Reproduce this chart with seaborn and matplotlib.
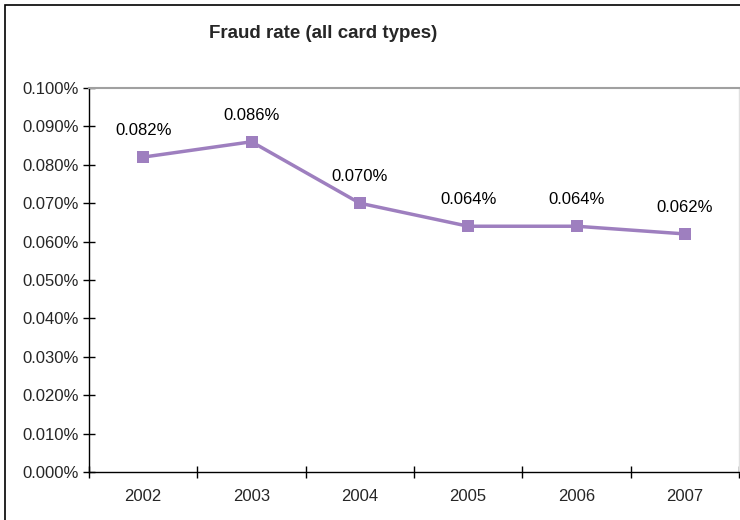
import matplotlib
matplotlib.use("Agg")
import matplotlib.pyplot as plt
import matplotlib.ticker as mticker
from matplotlib.patches import Rectangle
import seaborn as sns
import pandas as pd

years = ["2002", "2003", "2004", "2005", "2006", "2007"]
fraud_rate = [0.082, 0.086, 0.070, 0.064, 0.064, 0.062]
value_labels = ["0.082%", "0.086%", "0.070%", "0.064%", "0.064%", "0.062%"]

sns.set_style("white")
plt.rcParams['font.family'] = ['Liberation Sans', 'DejaVu Sans']

df = pd.DataFrame({"pos": range(len(years)), "rate": fraud_rate})
purple = "#9E7FBF"

fig = plt.figure(figsize=(7.4, 5.2), dpi=100)
ax = fig.add_axes([89 / 740, 1 - 472 / 520, (739 - 89) / 740, (472 - 88) / 520])

sns.lineplot(data=df, x="pos", y="rate", ax=ax, color=purple, linewidth=2.5,
             marker="s", markersize=8, markeredgewidth=0)

for i, (v, lab) in enumerate(zip(fraud_rate, value_labels)):
    ax.annotate(lab, (i, v), xytext=(0, 19), textcoords="offset points",
                ha="center", va="center", fontsize=12, color="black")

ax.set_xlim(-0.5, len(years) - 0.5)
ax.set_ylim(0, 0.1)
ax.yaxis.set_major_locator(mticker.MultipleLocator(0.01))
ax.yaxis.set_major_formatter(mticker.FuncFormatter(lambda v, p: f"{v:.3f}%"))
ax.set_xticks(range(len(years)))
ax.set_xticklabels(years)
ax.set_xticks([i - 0.5 for i in range(len(years) + 1)], minor=True)
ax.tick_params(axis="x", which="major", length=0, pad=12, labelsize=12)
ax.tick_params(axis="x", which="minor", bottom=True, direction="inout", length=8, width=1, color="black")
ax.tick_params(axis="y", direction="inout", length=8, width=1, color="black", labelsize=12, left=True)
ax.set_xlabel("")
ax.set_ylabel("")

for s in ["left", "bottom"]:
    ax.spines[s].set_color("black")
    ax.spines[s].set_linewidth(1)
ax.spines["top"].set_color("#A0A0A0")
ax.spines["top"].set_linewidth(1.5)
ax.spines["right"].set_color("#E0E0E0")
ax.spines["right"].set_linewidth(1)

fig.text(323 / 740, 1 - 34 / 520, "Fraud rate (all card types)", ha="center", va="center",
         fontsize=13.5, fontweight="bold")

fig.patches.append(Rectangle((5 / 740, -0.1), 1.2, 1 - 5 / 520 + 0.1, transform=fig.transFigure,
                             fill=False, edgecolor="black", linewidth=1.2))

fig.savefig("out.png", dpi=100)
